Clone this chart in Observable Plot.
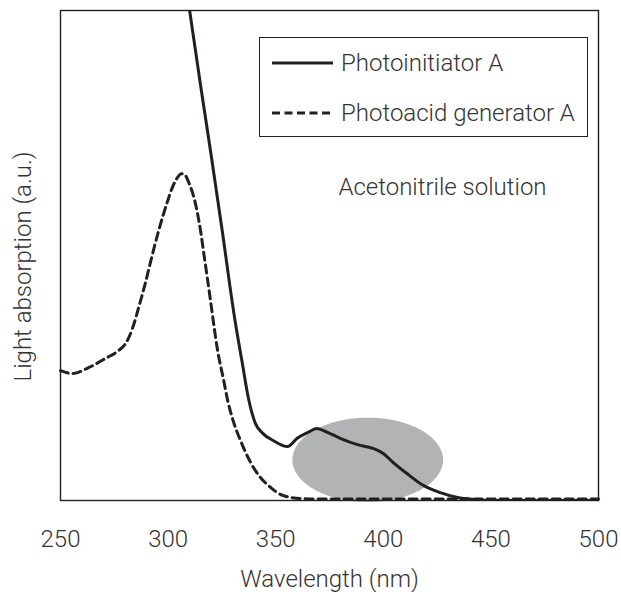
<!DOCTYPE html>
<html>
<head>
<meta charset="utf-8">
<script src="https://cdn.jsdelivr.net/npm/d3@7"></script>
<script src="https://cdn.jsdelivr.net/npm/@observablehq/plot@0.6"></script>
<style>
  html, body { margin: 0; padding: 0; background: #fff; }
  #wrap { position: relative; width: 621px; height: 592px; font-family: Roboto, "Liberation Sans", Arial, sans-serif; font-weight: 300; color: #333; }
  #legend { position: absolute; left: 259px; top: 37px; width: 327px; height: 98px; border: 1.4px solid #231f20; background: #fff; }
  #legend .row { position: absolute; left: 12px; display: flex; align-items: center; font-size: 24px; white-space: nowrap; }
  #legend svg { margin-right: 7px; }
</style>
</head>
<body>
<div id="wrap"></div>
<script>
// Wavelength axis ticks (nm)
const wavelengthTicks = [250, 300, 350, 400, 450, 500];

// Photoacid generator A (dashed)
const pagWavelength = [250, 255.6, 263, 270.9, 277, 280.2, 283.5, 286.2, 289.5, 291.8, 294.1, 297.4, 299.7, 302, 303.9, 306.2, 308.1, 309.5, 311, 312.7, 314, 315.1, 316.4, 318.3, 319.7, 321.1, 323, 325.7, 327.6, 330, 333.6, 338.3, 342, 346.2, 353.6, 361.5, 370, 400, 450, 500];
const pagAbsorption = [26.5, 25.9, 27.1, 29.0, 30.6, 32.0, 35.2, 39.2, 44.5, 48.6, 52.6, 57.8, 61.0, 63.9, 65.6, 66.7, 66.3, 65.0, 63.3, 60.6, 57.8, 55.0, 51.0, 45.2, 40.8, 36.3, 30.6, 24.8, 20.6, 16.6, 12.3, 7.8, 5.2, 3.2, 1.0, 0.4, 0.3, 0.3, 0.3, 0.3];

// Photoinitiator A (solid)
const piWavelength = [305, 310, 315, 320, 325, 331, 334.5, 337.5, 340.5, 344, 349, 355.5, 360, 365, 369, 374, 380, 388, 395.5, 400, 404.5, 411, 418.5, 426.5, 434.5, 442, 450, 500];
const piAbsorption = [115, 100, 85, 70.5, 55.5, 37, 28, 20.5, 15.8, 13.7, 12.2, 11.0, 12.7, 13.9, 14.7, 13.9, 12.7, 11.4, 10.6, 9.6, 7.8, 5.5, 3.1, 1.6, 0.6, 0.2, 0, 0];

// Highlighted region (grey ellipse): wavelength span and absorption span
const highlightWavelength = [358, 428];
const highlightAbsorption = [-0.4, 16.8];

const seriesNames = ["Photoinitiator A", "Photoacid generator A"];
const annotation = "Acetonitrile solution";
const annotationPos = [427.5, 63.9];

const pag = pagWavelength.map((x, i) => ({x, y: pagAbsorption[i]}));
const pi = piWavelength.map((x, i) => ({x, y: piAbsorption[i]}));

// ellipse outline from the highlight spans
const cx = (highlightWavelength[0] + highlightWavelength[1]) / 2;
const rx = (highlightWavelength[1] - highlightWavelength[0]) / 2;
const cy = (highlightAbsorption[0] + highlightAbsorption[1]) / 2;
const ry = (highlightAbsorption[1] - highlightAbsorption[0]) / 2;
const ell = d3.range(0, 181).map(k => {
  const t = Math.PI - Math.PI * k / 180;
  const x = cx + rx * Math.cos(t);
  const h = ry * Math.sin(t);
  return {x, y1: cy - h, y2: cy + h};
});

const ink = "#231f20";
const font = 'Roboto, "Liberation Sans", Arial, sans-serif';

const chart = Plot.plot({
  width: 621,
  height: 592,
  marginLeft: 60,
  marginRight: 23,
  marginTop: 10,
  marginBottom: 92,
  x: {domain: [250, 500], axis: null},
  y: {domain: [0, 100], axis: null},
  style: {fontFamily: font, fontSize: "24px", fontWeight: 300, color: "#333", background: "#fff", overflow: "visible"},
  marks: [
    Plot.areaY(ell, {x: "x", y1: "y1", y2: "y2", fill: "#b2b3b5", curve: "linear"}),
    Plot.frame({stroke: ink, strokeWidth: 1.4}),
    Plot.line(pag, {x: "x", y: "y", stroke: ink, strokeWidth: 3, strokeDasharray: "8,5", curve: "monotone-x"}),
    Plot.line(pi, {x: "x", y: "y", stroke: ink, strokeWidth: 3, curve: "monotone-x", clip: true}),
    Plot.text(wavelengthTicks, {x: d => d, text: d => String(d), frameAnchor: "bottom", dy: 39, lineAnchor: "middle", fill: "#333", fontSize: 24}),
    Plot.text(["Wavelength (nm)"], {frameAnchor: "bottom", dy: 79, lineAnchor: "middle", fill: "#333", fontSize: 24}),
    Plot.text(["Light absorption (a.u.)"], {frameAnchor: "left", textAnchor: "middle", dx: -37, dy: 11, rotate: -90, lineAnchor: "middle", fill: "#333", fontSize: 24}),
    Plot.text([annotation], {x: () => annotationPos[0], y: () => annotationPos[1], lineAnchor: "middle", fill: "#333", fontSize: 24})
  ]
});

const wrap = document.getElementById("wrap");
wrap.appendChild(chart);

const legend = document.createElement("div");
legend.id = "legend";
const dashes = ["", "8,4.5"];
seriesNames.forEach((name, i) => {
  const row = document.createElement("div");
  row.className = "row";
  row.style.top = (i === 0 ? 11 : 61) + "px";
  row.innerHTML = `<svg width="62" height="24"><line x1="0" x2="61" y1="12" y2="12" stroke="${ink}" stroke-width="3" ${dashes[i] ? `stroke-dasharray="${dashes[i]}"` : ""}/></svg><span>${name}</span>`;
  legend.appendChild(row);
});
wrap.appendChild(legend);
</script>
</body>
</html>
